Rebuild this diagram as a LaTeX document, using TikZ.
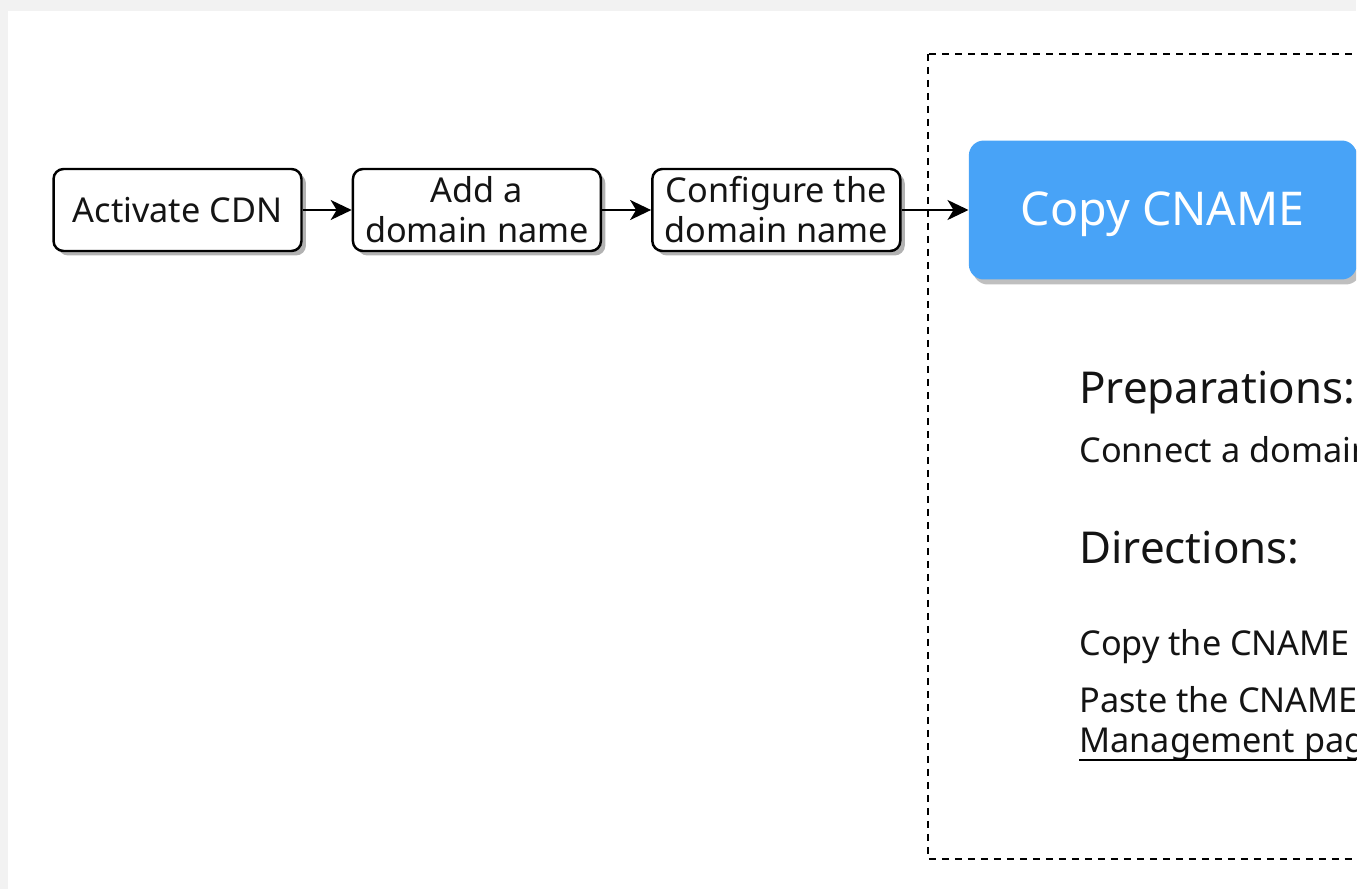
\documentclass[tikz,border=0pt]{standalone}
\usepackage{fontspec}
\setmainfont{Noto Sans}
\usetikzlibrary{positioning, arrows.meta, shadows}
\definecolor{cnameblue}{HTML}{48A3F7}
\definecolor{inktext}{HTML}{141414}

\begin{document}
\begin{tikzpicture}[x=0.02cm,y=-0.02cm,node distance=0.98cm]
 \tikzstyle{stepbox}=[rectangle,draw=black,line width=1.4pt,rounded corners=0.2cm,
   fill=white,minimum width=4.96cm,minimum height=1.64cm,inner sep=0pt,
   align=center,text=inktext,font=\fontsize{19.5}{22.8}\selectfont,
   drop shadow={shadow xshift=0.09cm,shadow yshift=-0.09cm,fill=black!30,opacity=1}]
 \tikzstyle{cnamebox}=[rectangle,fill=cnameblue,rounded corners=0.3cm,
   minimum width=7.76cm,minimum height=2.78cm,text=white,
   text height=0.64cm,text depth=0pt,font=\fontsize{26.5}{30}\selectfont,
   drop shadow={shadow xshift=0.08cm,shadow yshift=-0.1cm,fill=black!25,opacity=1}]
 \tikzstyle{heading}=[anchor=base west,inner sep=0pt,text=inktext,
   font=\fontsize{25}{30}\selectfont]
 \tikzstyle{bodytext}=[anchor=base west,inner sep=0pt,text=inktext,
   font=\fontsize{19.5}{24}\selectfont]
 \tikzstyle{flow}=[-{Stealth[length=0.42cm,width=0.4cm,inset=0.12cm]},line width=1.3pt]
 \useasboundingbox (0,0) rectangle (1365,889);
 \fill[black!5] (0,0) rectangle (1356,11);
 \fill[black!5] (0,0) rectangle (8,889);
 \begin{scope}
 \clip (8,11) rectangle (1356,889);
 % frame of the CNAME step
 \draw[line width=1.3pt,dash pattern=on 0.14cm off 0.12cm] (928,54) rectangle (1420,859);
 \node (act) [stepbox] at (177.5,210) {Activate CDN};
 \node (add) [stepbox,right=of act] {Add a\\domain name};
 \node (conf) [stepbox,right=of add] {Configure the\\domain name};
 \node (copy) [cnamebox,right=1.34cm of conf] {Copy CNAME};
 \draw[flow] (act) -- (add);
 \draw[flow] (add) -- (conf);
 \draw[flow] (conf) -- (copy);
 % notes
 \node (prep) [heading] at (1079,403) {Preparations:};
 \node (conn) [bodytext] at (1079,462) {Connect a domain};
 \node (dirs) [heading] at (1079,563) {Directions:};
 \node (copytxt) [bodytext] at (1079,655) {Copy the CNAME};
 \node (paste) [bodytext] at (1079,712) {Paste the CNAME};
 \node (mgmt) [bodytext] at (1079,752) {Management page};
 \draw[line width=1.3pt] ([yshift=-0.16cm]mgmt.base west) -- ([yshift=-0.16cm]mgmt.base east);
 \end{scope}
\end{tikzpicture}
\end{document}
